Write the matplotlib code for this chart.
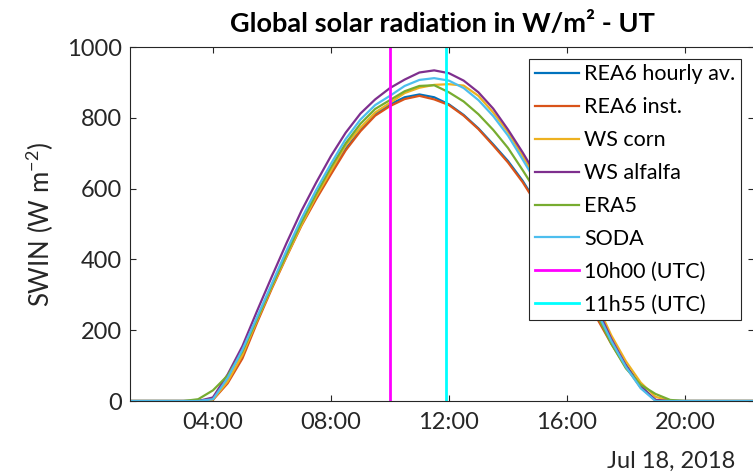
import matplotlib
matplotlib.use('Agg')
import matplotlib.pyplot as plt

plt.rcParams['font.family'] = ['Lato', 'DejaVu Sans']
plt.rcParams['mathtext.fontset'] = 'custom'
plt.rcParams['mathtext.rm'] = 'Lato'
plt.rcParams['mathtext.default'] = 'regular'

TITLE = 'Global solar radiation in W/m² - UT'
YLABEL = 'SWIN (W m$^{-2}$)'
DATE_LABEL = 'Jul 18, 2018'

# time of day in hours (UTC)
hours = [0.0, 3.0, 3.5, 4.0, 4.5, 5.0, 5.5, 6.0, 6.5, 7.0, 7.5, 8.0, 8.5, 9.0,
         9.5, 10.0, 10.5, 11.0, 11.5, 12.0, 12.5, 13.0, 13.5, 14.0, 14.5,
         15.0, 15.5, 16.0, 16.5, 17.0, 17.5, 18.0, 18.5, 19.0, 19.5, 20.0, 24.0]

rea6_hourly = [0, 0, 0, 5, 55, 125, 230, 325, 415, 500, 575, 645, 712, 765,
               810, 838, 858, 866, 858, 838, 808, 770, 725, 678, 622,
               555, 478, 398, 318, 240, 168, 102, 42, 3, 0, 0, 0]
rea6_inst = [0, 0, 0, 3, 50, 120, 222, 318, 408, 495, 570, 640, 708, 762,
             806, 833, 853, 862, 852, 836, 806, 768, 722, 674, 618,
             552, 474, 395, 315, 236, 162, 96, 38, 2, 0, 0, 0]
ws_corn = [0, 0, 0, 4, 55, 130, 228, 322, 410, 497, 578, 650, 722, 772,
           815, 842, 870, 885, 893, 895, 891, 862, 815, 760, 692,
           620, 542, 456, 366, 276, 186, 112, 52, 12, 0, 0, 0]
ws_alfalfa = [0, 0, 0, 10, 75, 155, 255, 352, 447, 537, 617, 692, 758, 812,
              852, 884, 908, 928, 934, 926, 905, 872, 826, 767, 702,
              632, 548, 458, 362, 266, 176, 100, 40, 3, 0, 0, 0]
era5 = [0, 0, 5, 30, 72, 140, 232, 326, 416, 505, 585, 660, 728, 783,
        825, 850, 875, 890, 892, 872, 846, 810, 766, 715, 652,
        586, 506, 420, 335, 246, 162, 92, 46, 20, 3, 0, 0]
soda = [0, 0, 0, 5, 65, 145, 238, 332, 426, 515, 596, 670, 740, 795,
        836, 862, 890, 907, 912, 905, 884, 850, 805, 750, 682,
        612, 530, 442, 350, 256, 170, 96, 36, 0, 0, 0, 0]

series = [
    ('REA6 hourly av.', rea6_hourly, '#0072BD'),
    ('REA6 inst.', rea6_inst, '#D95319'),
    ('WS corn', ws_corn, '#EDB120'),
    ('WS alfalfa', ws_alfalfa, '#7E2F8E'),
    ('ERA5', era5, '#77AC30'),
    ('SODA', soda, '#4DBEEE'),
]

# marker times 10h00 and 11h55
vlines = [('10h00 (UTC)', 10.0, '#FF00FF'), ('11h55 (UTC)', 11 + 55 / 60, '#00FFFF')]

xticks = [4, 8, 12, 16, 20]
xticklabels = ['04:00', '08:00', '12:00', '16:00', '20:00']
yticks = [0, 200, 400, 600, 800, 1000]

fig = plt.figure(figsize=(7.53, 4.74), dpi=100)
ax = fig.add_axes([130 / 753, 1 - 401 / 474, 624 / 753, 354 / 474])

for name, vals, col in series:
    ax.plot(hours, vals, color=col, lw=1.6, label=name)
for name, t, col in vlines:
    ax.axvline(t, color=col, lw=2.0, label=name)

ax.set_xlim(1.19, 22.34)
ax.set_ylim(0, 1000)
ax.set_xticks(xticks)
ax.set_xticklabels(xticklabels)
ax.set_yticks(yticks)

ax.tick_params(direction='in', length=4, width=0.8, colors='#262626',
               labelsize=17, top=True, right=True, pad=6)
ax.tick_params(axis='x', pad=8)
for s in ax.spines.values():
    s.set_color('#262626')
    s.set_linewidth(0.8)

ax.set_title(TITLE, fontsize=19.5, fontweight='bold', pad=11)
ax.set_ylabel(YLABEL, fontsize=18.5, color='#262626', labelpad=8)
fig.text(735 / 753, 1 - 461 / 474, DATE_LABEL, ha='right', va='center',
         fontsize=17, color='#262626')

leg = ax.legend(loc='upper right', bbox_to_anchor=(741 / 753, 1 - 59 / 474),
                bbox_transform=fig.transFigure, fontsize=15.5, frameon=True,
                fancybox=False, framealpha=1, edgecolor='#262626',
                borderpad=0.25, labelspacing=0.6, handlelength=2.05,
                handletextpad=0.25, borderaxespad=0)
leg.get_frame().set_linewidth(0.8)

fig.savefig('out.png', dpi=100)
